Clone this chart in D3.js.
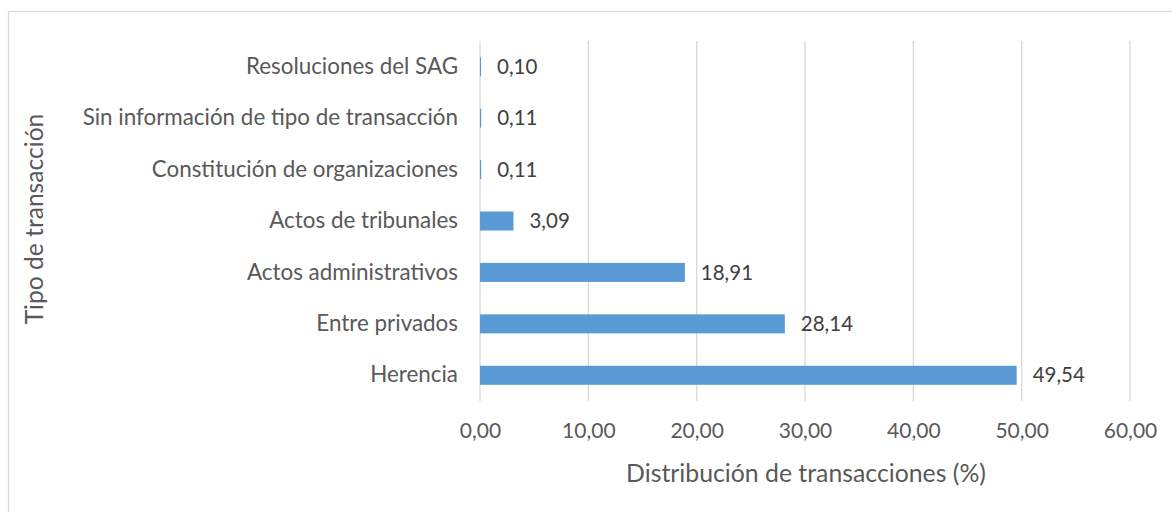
<!DOCTYPE html>
<html>
<head>
<meta charset="utf-8">
<script src="https://cdn.jsdelivr.net/npm/d3@7"></script>
<style>
body { margin: 0; background: #fff; }
text { font-family: Lato, "Open Sans", sans-serif; }
</style>
</head>
<body>
<svg id="chart"></svg>
<script>
var categories = ["Resoluciones del SAG", "Sin información de tipo de transacción", "Constitución de organizaciones",
	"Actos de tribunales", "Actos administrativos", "Entre privados", "Herencia"];
var values = [0.10, 0.11, 0.11, 3.09, 18.91, 28.14, 49.54];
var xTicks = [0, 10, 20, 30, 40, 50, 60];

var W = 1172, H = 512;
var margin = { top: 41, right: 42, bottom: 111, left: 480 };
var textColor = "#595959";

var svg = d3.select("#chart")
	.attr("width", W)
	.attr("height", H);

// chart border (top + left visible)
svg.append("rect")
	.attr("x", 8.5).attr("y", 11.5)
	.attr("width", W + 20).attr("height", H + 20)
	.attr("fill", "none")
	.attr("stroke", "#d9d9d9")
	.attr("stroke-width", 1.3);

var x = d3.scaleLinear().domain([0, 60]).range([margin.left, W - margin.right]);
var y = d3.scaleBand().domain(categories).range([margin.top, H - margin.bottom]).paddingInner(0.63).paddingOuter(0.315);

var fmt = function(v) { return d3.format(".2f")(v).replace(".", ","); };

// gridlines
svg.append("g").selectAll("line")
	.data(xTicks)
	.enter().append("line")
	.attr("x1", function(d) { return x(d); })
	.attr("x2", function(d) { return x(d); })
	.attr("y1", margin.top)
	.attr("y2", H - margin.bottom)
	.attr("stroke", "#d9d9d9")
	.attr("stroke-width", 1.3);

// bars
svg.append("g").selectAll("rect")
	.data(values)
	.enter().append("rect")
	.attr("x", x(0))
	.attr("y", function(d, i) { return y(categories[i]); })
	.attr("width", function(d) { return Math.max(x(d) - x(0), 1); })
	.attr("height", y.bandwidth())
	.attr("fill", "#5b9bd5");

// value labels
svg.append("g").selectAll("text")
	.data(values)
	.enter().append("text")
	.attr("x", function(d) { return x(d) + 16; })
	.attr("y", function(d, i) { return y(categories[i]) + y.bandwidth() / 2; })
	.attr("dy", "0.35em")
	.attr("font-size", "20.5px")
	.attr("fill", "#404040")
	.text(function(d) { return fmt(d); });

// y axis labels
var yAxis = d3.axisLeft(y).tickSize(0).tickPadding(22);
var gy = svg.append("g").attr("transform", "translate(" + x(0) + ",0)").call(yAxis);
gy.select(".domain").remove();
gy.selectAll("text").attr("font-size", "22.4px").attr("fill", textColor).style("font-family", "Lato, 'Open Sans', sans-serif");

// x axis labels
var xAxis = d3.axisBottom(x).tickValues(xTicks).tickSize(0).tickPadding(22).tickFormat(fmt);
var gx = svg.append("g").attr("transform", "translate(0," + (H - margin.bottom) + ")").call(xAxis);
gx.select(".domain").remove();
gx.selectAll("text").attr("font-size", "21px").attr("fill", textColor).style("font-family", "Lato, 'Open Sans', sans-serif");

// axis titles
svg.append("text")
	.attr("x", 806)
	.attr("y", 473)
	.attr("text-anchor", "middle")
	.attr("dy", "0.35em")
	.attr("font-size", "24.8px")
	.attr("fill", textColor)
	.text("Distribución de transacciones (%)");

svg.append("text")
	.attr("transform", "translate(34," + 219 + ") rotate(-90)")
	.attr("text-anchor", "middle")
	.attr("dy", "0.35em")
	.attr("font-size", "24.6px")
	.attr("fill", textColor)
	.text("Tipo de transacción");
</script>
</body>
</html>
